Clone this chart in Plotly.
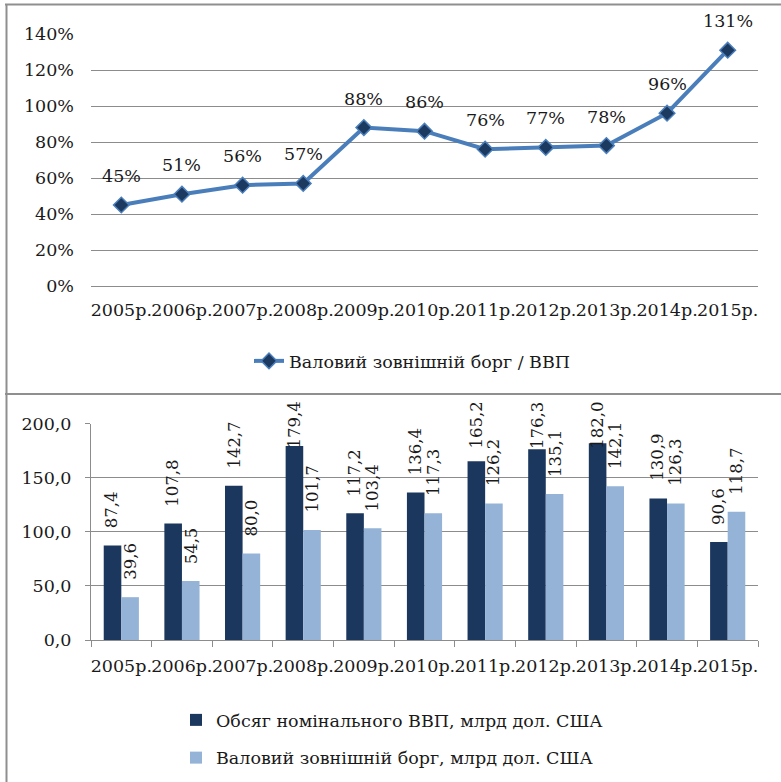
import plotly.graph_objects as go

years = ["2005р.", "2006р.", "2007р.", "2008р.", "2009р.", "2010р.",
         "2011р.", "2012р.", "2013р.", "2014р.", "2015р."]
debt_to_gdp = [45, 51, 56, 57, 88, 86, 76, 77, 78, 96, 131]
gdp = [87.4, 107.8, 142.7, 179.4, 117.2, 136.4, 165.2, 176.3, 182.0, 130.9, 90.6]
debt = [39.6, 54.5, 80.0, 101.7, 103.4, 117.3, 126.2, 135.1, 142.1, 126.3, 118.7]
pct_ticks = [0, 20, 40, 60, 80, 100, 120, 140]
val_ticks = [0, 50, 100, 150, 200]

W, H = 781, 782
FONT = "DejaVu Serif"
FS = 17.5
TXT = "#1a1a1a"
GRID = "#8c8c8c"

def px(x):
    return x / W

def py(y):
    return 1 - y / H

def fmt(v):
    return f"{v:.1f}".replace(".", ",")

fig = go.Figure()

fig.add_trace(go.Scatter(
    x=years, y=debt_to_gdp, mode="lines+markers",
    name="Валовий зовнішній борг / ВВП",
    line=dict(color="#4a7ebb", width=4),
    marker=dict(symbol="diamond", size=12, color="#1c3a60",
                line=dict(color="#4a7ebb", width=1.5)),
    xaxis="x", yaxis="y", legend="legend", cliponaxis=False,
))

fig.add_trace(go.Bar(
    x=years, y=gdp, name="Обсяг номінального ВВП, млрд дол. США",
    marker=dict(color="#1b375e", line=dict(width=0)),
    xaxis="x2", yaxis="y2", legend="legend2", legendgroup="a",
))
fig.add_trace(go.Bar(
    x=years, y=debt, name="Валовий зовнішній борг, млрд дол. США",
    marker=dict(color="#95b3d7", line=dict(width=0)),
    xaxis="x2", yaxis="y2", legend="legend2", legendgroup="b",
))

annotations = []
for yr, v in zip(years, debt_to_gdp):
    annotations.append(dict(
        x=yr, y=v, xref="x", yref="y", text=f"{v}%", showarrow=False,
        yshift=29, font=dict(family=FONT, size=FS, color=TXT),
    ))
for series, shift in ((gdp, -9), (debt, 9)):
    for yr, v in zip(years, series):
        annotations.append(dict(
            x=yr, y=min(v + 14, 175), xref="x2", yref="y2", text=fmt(v),
            showarrow=False, textangle=-90, xshift=shift,
            xanchor="center", yanchor="bottom",
            font=dict(family=FONT, size=16.5, color=TXT),
        ))

line_style = dict(color="#8f8f8f", width=2)
shapes = [
    dict(type="line", xref="paper", yref="paper", x0=px(5), x1=1, y0=py(4.5), y1=py(4.5), line=line_style),
    dict(type="line", xref="paper", yref="paper", x0=px(6.5), x1=px(6.5), y0=0, y1=py(4.5), line=line_style),
    dict(type="line", xref="paper", yref="paper", x0=px(5), x1=1, y0=py(394), y1=py(394), line=line_style),
]

axis_font = dict(family=FONT, size=FS, color=TXT)

fig.update_layout(
    width=W, height=H, margin=dict(l=0, r=0, t=0, b=0, autoexpand=False),
    paper_bgcolor="white", plot_bgcolor="white",
    font=dict(family=FONT, size=FS, color=TXT),
    separators=", ",
    barmode="group", bargap=0.42, bargroupgap=0,
    annotations=annotations, shapes=shapes,
    xaxis=dict(domain=[px(91), px(758)], anchor="y", showgrid=False,
               range=[-0.5, len(years) - 0.5], automargin=False,
               showline=False, ticks="", tickangle=0, tickfont=axis_font,
               ticklabelstandoff=11),
    yaxis=dict(domain=[py(286), py(34)], anchor="x", range=[0, 140],
               tickvals=pct_ticks, ticktext=[f"{t}%" for t in pct_ticks],
               automargin=False,
               showgrid=True, gridcolor=GRID, gridwidth=1, zeroline=True,
               zerolinecolor=GRID, zerolinewidth=1, showline=False, ticks="",
               tickfont=axis_font, ticklabelstandoff=16),
    xaxis2=dict(domain=[px(91), px(758)], anchor="y2", showgrid=False,
                range=[-0.5, len(years) - 0.5], automargin=False,
                showline=True, linecolor=GRID, linewidth=1, ticks="outside",
                tickson="boundaries", ticklen=6, tickcolor=GRID, tickangle=0,
                tickfont=axis_font, ticklabelstandoff=10),
    yaxis2=dict(domain=[py(640), py(423.7)], anchor="x2", range=[0, 200],
                tickvals=val_ticks, ticktext=[fmt(t) for t in val_ticks],
                automargin=False,
                showgrid=True, gridcolor=GRID, gridwidth=1, zeroline=False,
                showline=True, linecolor=GRID, linewidth=1, ticks="outside",
                ticklen=5, tickcolor=GRID, tickfont=axis_font,
                ticklabelstandoff=10),
    legend=dict(x=px(249), y=py(361), xanchor="left", yanchor="middle",
                bgcolor="rgba(0,0,0,0)", font=dict(family=FONT, size=FS, color=TXT)),
    legend2=dict(x=px(176), y=py(739), xanchor="left", yanchor="middle",
                 bgcolor="rgba(0,0,0,0)", tracegroupgap=12,
                 font=dict(family=FONT, size=FS, color=TXT)),
    showlegend=True,
)

fig.write_html("out.html", config={"displayModeBar": False},
               post_script="document.body.style.margin='0';")
